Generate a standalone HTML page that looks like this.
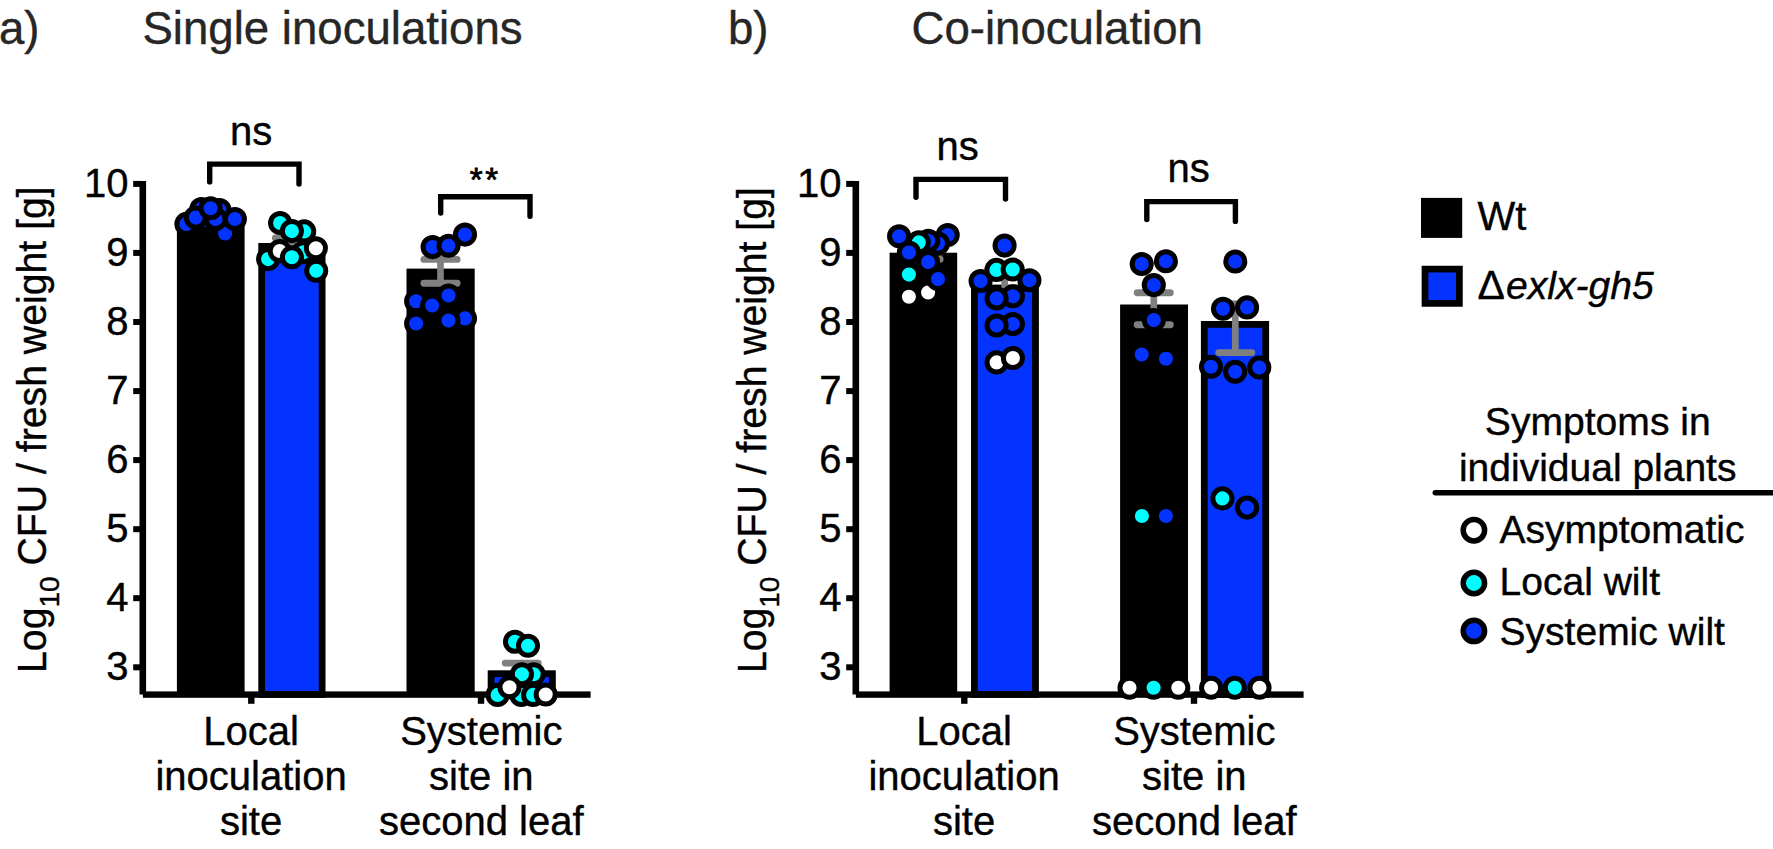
<!DOCTYPE html>
<html><head><meta charset="utf-8"><title>Figure</title>
<style>
html,body{margin:0;padding:0;background:#fff;}
svg{display:block;font-family:"Liberation Sans",Arial,Helvetica,sans-serif;}
text{stroke:#000;stroke-width:0.4px;}
text.t{stroke:#262626;}
</style></head><body>
<svg width="1773" height="849" viewBox="0 0 1773 849">
<rect width="1773" height="849" fill="#fff"/>
<rect x="176.9" y="225.0" width="67.7" height="471.0" fill="#000"/>
<rect x="261.70" y="246.40" width="60.40" height="448.00" fill="#0433ff" stroke="#000" stroke-width="6.8"/>
<rect x="406.5" y="268.6" width="68.2" height="427.4" fill="#000"/>
<rect x="491.10" y="673.70" width="61.30" height="20.70" fill="#0433ff" stroke="#000" stroke-width="6.8"/>
<rect x="139.5" y="181" width="6.6" height="513.5" fill="#000"/>
<rect x="142.9" y="691.4" width="447.7" height="6.4" fill="#000"/>
<rect x="133.2" y="664.3" width="8" height="6" fill="#000"/>
<text x="128.6" y="680.1" font-size="40" text-anchor="end" fill="#000" >3</text>
<rect x="133.2" y="595.2" width="8" height="6" fill="#000"/>
<text x="128.6" y="611.0" font-size="40" text-anchor="end" fill="#000" >4</text>
<rect x="133.2" y="526.2" width="8" height="6" fill="#000"/>
<text x="128.6" y="542.0" font-size="40" text-anchor="end" fill="#000" >5</text>
<rect x="133.2" y="457.1" width="8" height="6" fill="#000"/>
<text x="128.6" y="472.9" font-size="40" text-anchor="end" fill="#000" >6</text>
<rect x="133.2" y="388.1" width="8" height="6" fill="#000"/>
<text x="128.6" y="403.9" font-size="40" text-anchor="end" fill="#000" >7</text>
<rect x="133.2" y="319.0" width="8" height="6" fill="#000"/>
<text x="128.6" y="334.8" font-size="40" text-anchor="end" fill="#000" >8</text>
<rect x="133.2" y="249.9" width="8" height="6" fill="#000"/>
<text x="128.6" y="265.7" font-size="40" text-anchor="end" fill="#000" >9</text>
<rect x="133.2" y="180.9" width="8" height="6" fill="#000"/>
<text x="128.6" y="196.7" font-size="40" text-anchor="end" fill="#000" >10</text>
<rect x="248.1" y="695" width="6.4" height="8.8" fill="#000"/>
<rect x="477.8" y="695" width="6.4" height="8.8" fill="#000"/>
<text x="251.0" y="745.0" font-size="40" text-anchor="middle" fill="#000" >Local</text>
<text x="251.0" y="790.2" font-size="40" text-anchor="middle" fill="#000" >inoculation</text>
<text x="251.0" y="835.4" font-size="40" text-anchor="middle" fill="#000" >site</text>
<text x="481.3" y="745.0" font-size="40" text-anchor="middle" fill="#000" >Systemic</text>
<text x="481.3" y="790.2" font-size="40" text-anchor="middle" fill="#000" >site in</text>
<text x="481.3" y="835.4" font-size="40" text-anchor="middle" fill="#000" >second leaf</text>
<text transform="translate(46.3 673.0) rotate(-90) scale(0.981 1)" font-size="40" fill="#000">Log<tspan font-size="28.5" dy="13">10</tspan><tspan dy="-13"> CFU / fresh weight [g]</tspan></text>
<g stroke="#808080" stroke-width="6.9" stroke-linecap="round" fill="none"><line x1="292.0" y1="237.9" x2="292.0" y2="255.0" stroke-width="6.7"/><line x1="275.4" y1="237.9" x2="308.6" y2="237.9"/><line x1="275.4" y1="255.0" x2="308.6" y2="255.0"/></g>
<g stroke="#808080" stroke-width="6.9" stroke-linecap="round" fill="none"><line x1="440.5" y1="259.4" x2="440.5" y2="283.2" stroke-width="6.7"/><line x1="423.9" y1="259.4" x2="457.1" y2="259.4"/><line x1="423.9" y1="283.2" x2="457.1" y2="283.2"/></g>
<g stroke="#808080" stroke-width="6.9" stroke-linecap="round" fill="none"><line x1="521.7" y1="663.1" x2="521.7" y2="691.0" stroke-width="6.7"/><line x1="505.2" y1="663.1" x2="538.2" y2="663.1"/><line x1="505.2" y1="691.0" x2="538.2" y2="691.0"/></g>
<circle cx="201.4" cy="209.1" r="9.55" fill="#0433ff" stroke="#000" stroke-width="5.0"/>
<circle cx="219.5" cy="210.1" r="9.55" fill="#0433ff" stroke="#000" stroke-width="5.0"/>
<circle cx="186.4" cy="223.9" r="9.55" fill="#0433ff" stroke="#000" stroke-width="5.0"/>
<circle cx="205.3" cy="219.7" r="9.55" fill="#0433ff" stroke="#000" stroke-width="5.0"/>
<circle cx="225.1" cy="233.5" r="9.55" fill="#0433ff" stroke="#000" stroke-width="5.0"/>
<circle cx="215.6" cy="219.0" r="9.55" fill="#0433ff" stroke="#000" stroke-width="5.0"/>
<circle cx="195.8" cy="217.6" r="9.55" fill="#0433ff" stroke="#000" stroke-width="5.0"/>
<circle cx="210.6" cy="208.2" r="9.55" fill="#0433ff" stroke="#000" stroke-width="5.0"/>
<circle cx="234.9" cy="219.0" r="9.55" fill="#0433ff" stroke="#000" stroke-width="5.0"/>
<circle cx="280.1" cy="223.0" r="9.55" fill="#00fdff" stroke="#000" stroke-width="5.0"/>
<circle cx="304.2" cy="231.4" r="9.55" fill="#00fdff" stroke="#000" stroke-width="5.0"/>
<circle cx="291.9" cy="231.1" r="9.55" fill="#00fdff" stroke="#000" stroke-width="5.0"/>
<circle cx="268.1" cy="259.1" r="9.55" fill="#00fdff" stroke="#000" stroke-width="5.0"/>
<circle cx="279.7" cy="251.0" r="9.55" fill="#ffffff" stroke="#000" stroke-width="5.0"/>
<circle cx="303.5" cy="252.2" r="9.55" fill="#00fdff" stroke="#000" stroke-width="5.0"/>
<circle cx="291.9" cy="257.2" r="9.55" fill="#00fdff" stroke="#000" stroke-width="5.0"/>
<circle cx="315.9" cy="248.2" r="9.55" fill="#ffffff" stroke="#000" stroke-width="5.0"/>
<circle cx="316.2" cy="270.8" r="9.55" fill="#00fdff" stroke="#000" stroke-width="5.0"/>
<circle cx="432.6" cy="247.1" r="9.55" fill="#0433ff" stroke="#000" stroke-width="5.0"/>
<circle cx="465.0" cy="234.6" r="9.55" fill="#0433ff" stroke="#000" stroke-width="5.0"/>
<circle cx="448.5" cy="245.7" r="9.55" fill="#0433ff" stroke="#000" stroke-width="5.0"/>
<circle cx="416.1" cy="301.2" r="9.55" fill="#0433ff" stroke="#000" stroke-width="5.0"/>
<circle cx="432.2" cy="305.5" r="9.55" fill="#0433ff" stroke="#000" stroke-width="5.0"/>
<circle cx="448.5" cy="295.5" r="9.55" fill="#0433ff" stroke="#000" stroke-width="5.0"/>
<circle cx="416.1" cy="323.5" r="9.55" fill="#0433ff" stroke="#000" stroke-width="5.0"/>
<circle cx="465.0" cy="318.4" r="9.55" fill="#0433ff" stroke="#000" stroke-width="5.0"/>
<circle cx="448.5" cy="320.5" r="9.55" fill="#0433ff" stroke="#000" stroke-width="5.0"/>
<circle cx="515.0" cy="641.8" r="9.55" fill="#00fdff" stroke="#000" stroke-width="5.0"/>
<circle cx="528.0" cy="645.7" r="9.55" fill="#00fdff" stroke="#000" stroke-width="5.0"/>
<circle cx="533.6" cy="674.2" r="9.55" fill="#00fdff" stroke="#000" stroke-width="5.0"/>
<circle cx="521.9" cy="674.2" r="9.55" fill="#00fdff" stroke="#000" stroke-width="5.0"/>
<circle cx="497.6" cy="694.9" r="9.55" fill="#00fdff" stroke="#000" stroke-width="5.0"/>
<circle cx="521.3" cy="694.9" r="9.55" fill="#00fdff" stroke="#000" stroke-width="5.0"/>
<circle cx="533.1" cy="694.9" r="9.55" fill="#00fdff" stroke="#000" stroke-width="5.0"/>
<circle cx="509.5" cy="687.2" r="9.55" fill="#ffffff" stroke="#000" stroke-width="5.0"/>
<circle cx="545.7" cy="694.5" r="9.55" fill="#ffffff" stroke="#000" stroke-width="5.0"/>
<path d="M209.7 181.9V164.1H299.0V184.1" fill="none" stroke="#000" stroke-width="5.4" stroke-linecap="round" stroke-linejoin="miter"/>
<text x="251.2" y="145.3" font-size="40" text-anchor="middle" fill="#000" >ns</text>
<path d="M440.7 213.1V196.8H530.0V216.3" fill="none" stroke="#000" stroke-width="5.4" stroke-linecap="round" stroke-linejoin="miter"/>
<text x="485.3" y="190.7" font-size="33" text-anchor="middle" fill="#000" letter-spacing="2.8" style="stroke-width:0.8px">**</text>
<rect x="889.6" y="252.7" width="67.6" height="443.3" fill="#000"/>
<rect x="974.40" y="288.00" width="61.10" height="406.40" fill="#0433ff" stroke="#000" stroke-width="6.8"/>
<rect x="1120.1" y="304.5" width="67.9" height="391.5" fill="#000"/>
<rect x="1204.30" y="324.40" width="61.40" height="370.00" fill="#0433ff" stroke="#000" stroke-width="6.8"/>
<rect x="852.5" y="181" width="6.6" height="513.5" fill="#000"/>
<rect x="855.9" y="691.4" width="447.7" height="6.4" fill="#000"/>
<rect x="846.2" y="664.3" width="8" height="6" fill="#000"/>
<text x="841.6" y="680.1" font-size="40" text-anchor="end" fill="#000" >3</text>
<rect x="846.2" y="595.2" width="8" height="6" fill="#000"/>
<text x="841.6" y="611.0" font-size="40" text-anchor="end" fill="#000" >4</text>
<rect x="846.2" y="526.2" width="8" height="6" fill="#000"/>
<text x="841.6" y="542.0" font-size="40" text-anchor="end" fill="#000" >5</text>
<rect x="846.2" y="457.1" width="8" height="6" fill="#000"/>
<text x="841.6" y="472.9" font-size="40" text-anchor="end" fill="#000" >6</text>
<rect x="846.2" y="388.1" width="8" height="6" fill="#000"/>
<text x="841.6" y="403.9" font-size="40" text-anchor="end" fill="#000" >7</text>
<rect x="846.2" y="319.0" width="8" height="6" fill="#000"/>
<text x="841.6" y="334.8" font-size="40" text-anchor="end" fill="#000" >8</text>
<rect x="846.2" y="249.9" width="8" height="6" fill="#000"/>
<text x="841.6" y="265.7" font-size="40" text-anchor="end" fill="#000" >9</text>
<rect x="846.2" y="180.9" width="8" height="6" fill="#000"/>
<text x="841.6" y="196.7" font-size="40" text-anchor="end" fill="#000" >10</text>
<rect x="961.1" y="695" width="6.4" height="8.8" fill="#000"/>
<rect x="1190.8" y="695" width="6.4" height="8.8" fill="#000"/>
<text x="964.0" y="745.0" font-size="40" text-anchor="middle" fill="#000" >Local</text>
<text x="964.0" y="790.2" font-size="40" text-anchor="middle" fill="#000" >inoculation</text>
<text x="964.0" y="835.4" font-size="40" text-anchor="middle" fill="#000" >site</text>
<text x="1194.3" y="745.0" font-size="40" text-anchor="middle" fill="#000" >Systemic</text>
<text x="1194.3" y="790.2" font-size="40" text-anchor="middle" fill="#000" >site in</text>
<text x="1194.3" y="835.4" font-size="40" text-anchor="middle" fill="#000" >second leaf</text>
<text transform="translate(766.3 673.0) rotate(-90) scale(0.979 1)" font-size="40" fill="#000">Log<tspan font-size="28.5" dy="13">10</tspan><tspan dy="-13"> CFU / fresh weight [g]</tspan></text>
<g stroke="#808080" stroke-width="6.9" stroke-linecap="round" fill="none"><line x1="923.6" y1="252.4" x2="923.6" y2="259.2" stroke-width="6.7"/><line x1="907.1" y1="252.4" x2="940.1" y2="252.4"/><line x1="907.1" y1="259.2" x2="940.1" y2="259.2"/></g>
<g stroke="#808080" stroke-width="6.9" stroke-linecap="round" fill="none"><line x1="1004.6" y1="271.5" x2="1004.6" y2="297.6" stroke-width="6.7"/><line x1="992.1" y1="271.5" x2="1017.1" y2="271.5"/><line x1="992.1" y1="297.6" x2="1017.1" y2="297.6"/></g>
<g stroke="#808080" stroke-width="6.9" stroke-linecap="round" fill="none"><line x1="1153.8" y1="292.8" x2="1153.8" y2="324.8" stroke-width="6.7"/><line x1="1137.2" y1="292.8" x2="1170.3" y2="292.8"/><line x1="1137.2" y1="324.8" x2="1170.3" y2="324.8"/></g>
<g stroke="#808080" stroke-width="6.9" stroke-linecap="round" fill="none"><line x1="1235.3" y1="304.0" x2="1235.3" y2="352.6" stroke-width="6.7"/><line x1="1218.8" y1="304.0" x2="1251.8" y2="304.0"/><line x1="1218.8" y1="352.6" x2="1251.8" y2="352.6"/></g>
<circle cx="899.1" cy="236.2" r="9.55" fill="#0433ff" stroke="#000" stroke-width="5.0"/>
<circle cx="947.7" cy="235.0" r="9.55" fill="#0433ff" stroke="#000" stroke-width="5.0"/>
<circle cx="938.0" cy="243.6" r="9.55" fill="#0433ff" stroke="#000" stroke-width="5.0"/>
<circle cx="928.3" cy="240.8" r="9.55" fill="#0433ff" stroke="#000" stroke-width="5.0"/>
<circle cx="918.8" cy="242.4" r="9.55" fill="#00fdff" stroke="#000" stroke-width="5.0"/>
<circle cx="908.9" cy="252.5" r="9.55" fill="#0433ff" stroke="#000" stroke-width="5.0"/>
<circle cx="928.1" cy="262.0" r="9.55" fill="#0433ff" stroke="#000" stroke-width="5.0"/>
<circle cx="908.9" cy="274.6" r="9.55" fill="#00fdff" stroke="#000" stroke-width="5.0"/>
<circle cx="928.1" cy="292.5" r="9.55" fill="#ffffff" stroke="#000" stroke-width="5.0"/>
<circle cx="938.0" cy="279.1" r="9.55" fill="#0433ff" stroke="#000" stroke-width="5.0"/>
<circle cx="908.9" cy="296.8" r="9.55" fill="#ffffff" stroke="#000" stroke-width="5.0"/>
<circle cx="1004.6" cy="245.6" r="9.55" fill="#0433ff" stroke="#000" stroke-width="5.0"/>
<circle cx="996.4" cy="269.9" r="9.55" fill="#00fdff" stroke="#000" stroke-width="5.0"/>
<circle cx="1012.7" cy="269.5" r="9.55" fill="#00fdff" stroke="#000" stroke-width="5.0"/>
<circle cx="980.6" cy="281.0" r="9.55" fill="#0433ff" stroke="#000" stroke-width="5.0"/>
<circle cx="1029.4" cy="280.2" r="9.55" fill="#0433ff" stroke="#000" stroke-width="5.0"/>
<circle cx="1012.9" cy="296.3" r="9.55" fill="#0433ff" stroke="#000" stroke-width="5.0"/>
<circle cx="996.6" cy="298.4" r="9.55" fill="#0433ff" stroke="#000" stroke-width="5.0"/>
<circle cx="1012.9" cy="324.1" r="9.55" fill="#0433ff" stroke="#000" stroke-width="5.0"/>
<circle cx="996.6" cy="325.5" r="9.55" fill="#0433ff" stroke="#000" stroke-width="5.0"/>
<circle cx="996.6" cy="362.4" r="9.55" fill="#ffffff" stroke="#000" stroke-width="5.0"/>
<circle cx="1012.9" cy="358.0" r="9.55" fill="#ffffff" stroke="#000" stroke-width="5.0"/>
<circle cx="1141.7" cy="264.0" r="9.55" fill="#0433ff" stroke="#000" stroke-width="5.0"/>
<circle cx="1165.9" cy="261.3" r="9.55" fill="#0433ff" stroke="#000" stroke-width="5.0"/>
<circle cx="1153.8" cy="285.1" r="9.55" fill="#0433ff" stroke="#000" stroke-width="5.0"/>
<circle cx="1153.8" cy="320.1" r="9.55" fill="#0433ff" stroke="#000" stroke-width="5.0"/>
<circle cx="1141.7" cy="354.5" r="9.55" fill="#0433ff" stroke="#000" stroke-width="5.0"/>
<circle cx="1165.9" cy="358.8" r="9.55" fill="#0433ff" stroke="#000" stroke-width="5.0"/>
<circle cx="1141.9" cy="516.0" r="9.55" fill="#00fdff" stroke="#000" stroke-width="5.0"/>
<circle cx="1165.9" cy="516.0" r="9.55" fill="#0433ff" stroke="#000" stroke-width="5.0"/>
<circle cx="1129.5" cy="687.7" r="9.55" fill="#ffffff" stroke="#000" stroke-width="5.0"/>
<circle cx="1153.6" cy="687.7" r="9.55" fill="#00fdff" stroke="#000" stroke-width="5.0"/>
<circle cx="1178.3" cy="687.7" r="9.55" fill="#ffffff" stroke="#000" stroke-width="5.0"/>
<circle cx="1235.3" cy="261.5" r="9.55" fill="#0433ff" stroke="#000" stroke-width="5.0"/>
<circle cx="1223.0" cy="308.8" r="9.55" fill="#0433ff" stroke="#000" stroke-width="5.0"/>
<circle cx="1247.1" cy="307.4" r="9.55" fill="#0433ff" stroke="#000" stroke-width="5.0"/>
<circle cx="1211.0" cy="366.7" r="9.55" fill="#0433ff" stroke="#000" stroke-width="5.0"/>
<circle cx="1235.2" cy="371.8" r="9.55" fill="#0433ff" stroke="#000" stroke-width="5.0"/>
<circle cx="1259.3" cy="367.5" r="9.55" fill="#0433ff" stroke="#000" stroke-width="5.0"/>
<circle cx="1222.4" cy="498.4" r="9.55" fill="#00fdff" stroke="#000" stroke-width="5.0"/>
<circle cx="1247.1" cy="507.6" r="9.55" fill="#0433ff" stroke="#000" stroke-width="5.0"/>
<circle cx="1211.1" cy="687.7" r="9.55" fill="#ffffff" stroke="#000" stroke-width="5.0"/>
<circle cx="1234.8" cy="687.7" r="9.55" fill="#00fdff" stroke="#000" stroke-width="5.0"/>
<circle cx="1259.5" cy="687.7" r="9.55" fill="#ffffff" stroke="#000" stroke-width="5.0"/>
<path d="M916.0 197.3V179.4H1005.5V199.0" fill="none" stroke="#000" stroke-width="5.4" stroke-linecap="round" stroke-linejoin="miter"/>
<text x="957.7" y="159.8" font-size="40" text-anchor="middle" fill="#000" >ns</text>
<path d="M1146.8 219.5V201.6H1235.4V221.4" fill="none" stroke="#000" stroke-width="5.4" stroke-linecap="round" stroke-linejoin="miter"/>
<text x="1188.6" y="181.8" font-size="40" text-anchor="middle" fill="#000" >ns</text>
<text x="-1.0" y="44.4" font-size="45.6" text-anchor="start" fill="#262626" class="t">a)</text>
<text x="332.5" y="44.4" font-size="45.6" text-anchor="middle" fill="#262626" class="t">Single inoculations</text>
<text x="727.9" y="44.4" font-size="45.6" text-anchor="start" fill="#262626" class="t">b)</text>
<text x="1057.2" y="44.4" font-size="45.6" text-anchor="middle" fill="#262626" class="t">Co-inoculation</text>
<rect x="1421" y="197.9" width="41.2" height="40" fill="#000"/>
<rect x="1425" y="269.1" width="34.4" height="34.3" fill="#0433ff" stroke="#000" stroke-width="6.7"/>
<text x="1477.6" y="229.9" font-size="40" text-anchor="start" fill="#000" >Wt</text>
<text x="1477.6" y="298.9" font-size="41" fill="#000">Δ</text>
<text x="1506.0" y="298.9" font-size="39.1" font-style="italic" fill="#000">exlx-gh5</text>
<text x="1597.8" y="434.5" font-size="39.1" text-anchor="middle" fill="#000" >Symptoms in</text>
<text x="1597.7" y="480.7" font-size="39.0" text-anchor="middle" fill="#000" >individual plants</text>
<line x1="1435.3" y1="492.8" x2="1776" y2="492.8" stroke="#000" stroke-width="5.5" stroke-linecap="round"/>
<circle cx="1473.9" cy="530.2" r="10.7" fill="#ffffff" stroke="#000" stroke-width="5.5"/>
<text x="1499.6" y="543.4" font-size="39.0" text-anchor="start" fill="#000" >Asymptomatic</text>
<circle cx="1473.9" cy="583.0" r="10.7" fill="#00fdff" stroke="#000" stroke-width="5.5"/>
<text x="1499.6" y="594.6" font-size="39.0" text-anchor="start" fill="#000" >Local wilt</text>
<circle cx="1473.9" cy="630.9" r="10.7" fill="#0433ff" stroke="#000" stroke-width="5.5"/>
<text x="1499.6" y="644.7" font-size="39.0" text-anchor="start" fill="#000" >Systemic wilt</text>
</svg>
</body></html>
